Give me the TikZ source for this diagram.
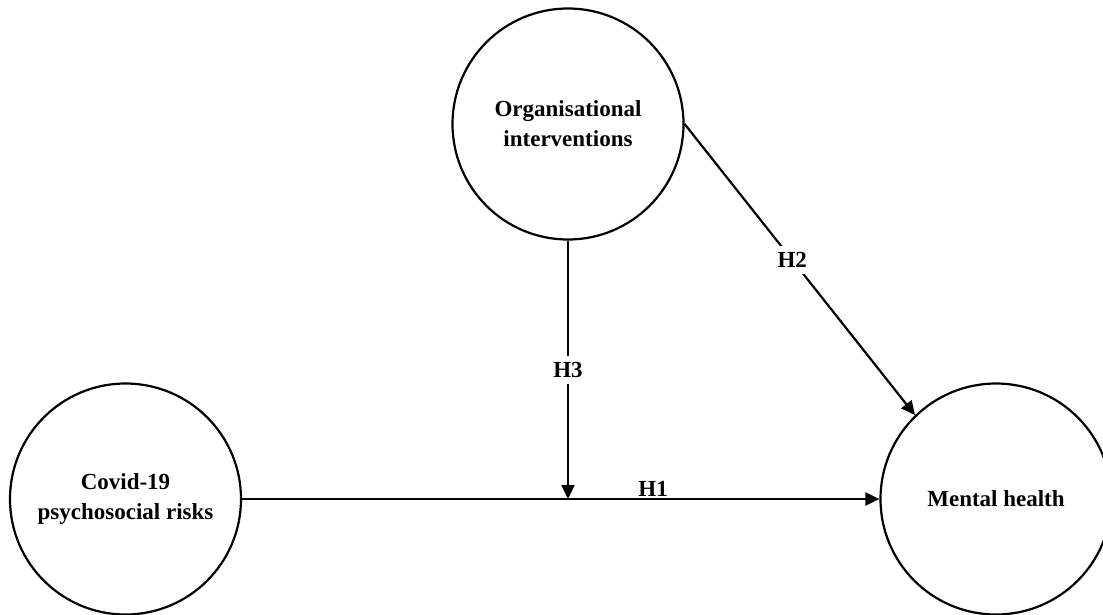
\documentclass[tikz,border=0pt]{standalone}
\usepackage{fontspec}
\setmainfont{Liberation Serif}
\usetikzlibrary{arrows.meta}
\begin{document}
\begin{tikzpicture}[x=1pt,y=-1pt,
  var/.style={draw=black, line width=2.2pt, circle, minimum size=231pt, inner sep=0pt, align=center,
    font=\fontsize{23}{30}\selectfont\bfseries},
  arr/.style={line width=2.2pt, -{Triangle[length=14pt,width=13pt]}},
  lbl/.style={font=\fontsize{23}{28}\selectfont\bfseries, inner xsep=3pt, inner ysep=6pt}]
\useasboundingbox (0,0) rectangle (1103,614);
\node[var] (org) at (568,124) {Organisational\\interventions};
\node[var] (covid) at (125.5,499) {Covid-19\\psychosocial risks};
\node[var] (mental) at (996,499) {Mental health};
\coordinate (j) at (568,499);
\draw[arr] (covid) -- node[lbl, pos=0.645, above, inner ysep=1pt] {H1} (mental);
\draw[arr] (org.south) -- node[lbl, fill=white, pos=0.5] {H3} (j);
\draw[arr] (org.east) -- node[lbl, fill=white, pos=0.467] {H2} (mental.134);
\end{tikzpicture}
\end{document}
